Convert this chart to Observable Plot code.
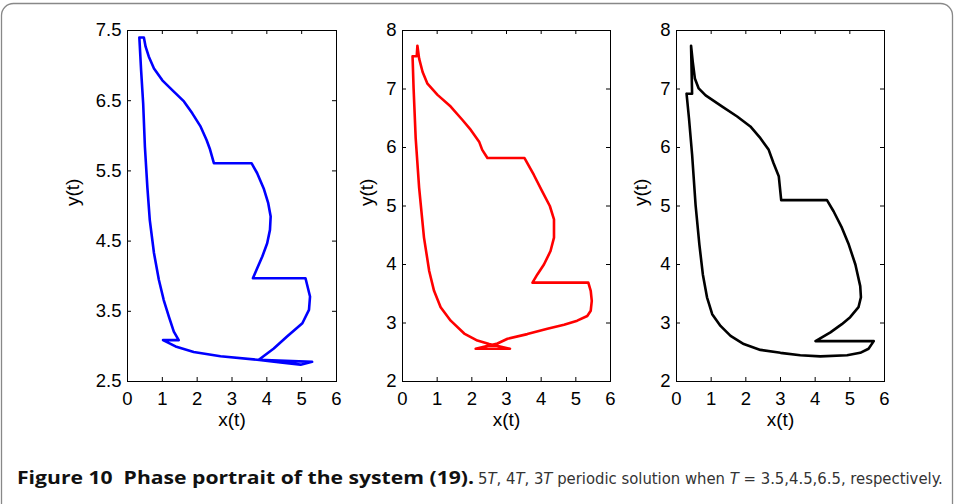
<!DOCTYPE html>
<html><head><meta charset="utf-8">
<script src="https://cdn.jsdelivr.net/npm/d3@7"></script>
<script src="https://cdn.jsdelivr.net/npm/@observablehq/plot@0.6"></script>
<style>
body{margin:0;background:#fff;}
#wrap{position:relative;width:956px;height:504px;overflow:hidden;background:#fff;}
.panel{position:absolute;top:0;}
</style></head><body>
<div id="wrap">
<svg width="956" height="504" style="position:absolute;left:0;top:0">
  <rect x="1.5" y="3.5" width="951" height="512" rx="12" fill="none" stroke="#888" stroke-width="1.3"/>
  <text x="17" y="484" font-family="'Open Sans','Noto Sans',sans-serif" font-weight="bold" font-size="17" fill="#111" textLength="457" lengthAdjust="spacingAndGlyphs" xml:space="preserve">Figure 10  Phase portrait of the system (19).</text>
  <text x="478" y="484" font-family="'Liberation Sans Narrow','DejaVu Sans Condensed','Open Sans',sans-serif" font-size="16.5" fill="#333">5<tspan font-style="italic">T</tspan>, 4<tspan font-style="italic">T</tspan>, 3<tspan font-style="italic">T</tspan> periodic solution when <tspan font-style="italic">T</tspan> = 3.5,4.5,6.5, respectively.</text>
</svg>
<div id="p1" class="panel"></div>
<div id="p2" class="panel"></div>
<div id="p3" class="panel"></div>
</div>
<script>
// tick labels
const xTicks = [0, 1, 2, 3, 4, 5, 6];
const yTicks1 = [2.5, 3.5, 4.5, 5.5, 6.5, 7.5];
const yTicks23 = [2, 3, 4, 5, 6, 7, 8];

// Panel 1 (5T, T = 3.5), blue
const p1x = [0.34,0.39,0.45,0.50,0.57,0.64,0.76,0.90,1.04,1.19,1.33,1.47,1.02,1.38,1.90,2.67,3.72,4.39,4.97,5.30,3.77,4.20,4.58,5.02,5.21,5.24,5.11,3.60,3.72,3.87,4.01,4.09,4.11,4.04,3.91,3.72,3.56,2.48,2.36,2.27,2.10,1.86,1.62,1.33,1.00,0.76,0.61,0.52,0.47,0.34];
const p1y = [7.40,6.94,6.46,5.84,5.27,4.80,4.33,3.95,3.66,3.42,3.21,3.09,3.09,3.00,2.92,2.86,2.81,2.77,2.74,2.78,2.81,2.97,3.14,3.33,3.52,3.71,3.97,3.97,4.11,4.28,4.47,4.66,4.85,5.04,5.25,5.47,5.61,5.61,5.82,5.94,6.13,6.32,6.49,6.63,6.79,6.96,7.13,7.27,7.40,7.40];

// Panel 2 (4T, T = 4.5), red
const p2x = [0.29,0.32,0.38,0.48,0.62,0.77,0.91,1.10,1.39,1.78,2.16,2.50,3.10,2.11,2.74,3.03,3.60,4.18,4.66,5.04,5.33,5.43,5.46,5.43,5.36,3.75,3.89,4.08,4.27,4.37,4.37,4.25,4.03,3.79,3.52,2.45,2.30,2.21,1.97,1.73,1.39,1.01,0.72,0.58,0.48,0.43,0.41,0.29];
const p2y = [7.56,7.01,6.16,5.31,4.46,3.89,3.55,3.27,3.04,2.82,2.70,2.64,2.56,2.56,2.65,2.73,2.81,2.90,2.97,3.04,3.12,3.21,3.38,3.55,3.69,3.69,3.83,4.00,4.23,4.46,4.77,5.00,5.25,5.53,5.82,5.82,5.96,6.10,6.30,6.47,6.70,6.90,7.09,7.29,7.52,7.74,7.56,7.56];

// Panel 3 (3T, T = 6.5), black
const p3x = [0.29,0.45,0.42,0.47,0.53,0.64,0.84,1.32,1.75,2.13,2.42,2.66,2.80,2.95,3.02,4.34,4.53,4.77,4.97,5.16,5.30,5.32,5.25,5.01,4.77,4.44,4.01,5.69,5.54,5.30,4.92,4.15,3.57,3.00,2.42,1.94,1.56,1.27,1.03,0.88,0.76,0.66,0.55,0.45,0.36,0.29];
const p3y = [6.92,6.92,7.74,7.46,7.18,7.01,6.89,6.70,6.53,6.36,6.16,5.96,5.73,5.51,5.10,5.10,4.91,4.63,4.34,4.00,3.63,3.44,3.27,3.10,2.98,2.84,2.69,2.69,2.56,2.49,2.45,2.43,2.45,2.49,2.54,2.64,2.78,2.95,3.15,3.44,3.83,4.34,5.02,5.88,6.50,6.92];

function panel(el, xs, ys, color, yDomain, yTicks, left, marginLeft, fw, ylabDx) {
  const fh = 351, mt = 30, mb = 60, mr = 14, tl = 4;
  const chart = Plot.plot({
    width: marginLeft + fw + mr,
    height: mt + fh + mb,
    marginLeft, marginRight: mr, marginTop: mt, marginBottom: mb,
    x: {domain: [0, 6]},
    y: {domain: yDomain},
    style: {fontFamily: "'Liberation Sans', Arial, Helvetica, sans-serif", fontSize: "18.5px", color: "#000", background: "transparent", overflow: "visible"},
    marks: [
      Plot.frame({stroke: "#000", strokeWidth: 1}),
      Plot.tickX(xTicks, {x: d => d, insetTop: fh - tl, stroke: "#000"}),
      Plot.tickX(xTicks, {x: d => d, insetBottom: fh - tl, stroke: "#000"}),
      Plot.tickY(yTicks, {y: d => d, insetRight: fw - tl, stroke: "#000"}),
      Plot.tickY(yTicks, {y: d => d, insetLeft: fw - tl, stroke: "#000"}),
      Plot.axisX({ticks: xTicks, tickSize: 0, tickPadding: 10, label: null, tickFormat: d => String(d)}),
      Plot.axisY({ticks: yTicks, tickSize: 0, tickPadding: 6, label: null, tickFormat: d => String(d)}),
      Plot.line(d3.range(xs.length), {x: i => xs[i], y: i => ys[i], stroke: color, strokeWidth: 2.6, strokeLinejoin: "round", curve: "linear"}),
      Plot.text(["x(t)"], {text: d => d, frameAnchor: "bottom", dy: 44, fontSize: 19}),
      Plot.text(["y(t)"], {text: d => d, frameAnchor: "left", dx: ylabDx, rotate: -90, fontSize: 19})
    ]
  });
  const div = document.getElementById(el);
  div.style.left = left + "px";
  div.appendChild(chart);
}

panel("p1", p1x, p1y, "#0000ff", [2.5, 7.5], yTicks1, 60, 67, 209, -55);
panel("p2", p2x, p2y, "#ff0000", [2, 8], yTicks23, 340, 62, 208, -36);
panel("p3", p3x, p3y, "#000000", [2, 8], yTicks23, 615, 61, 208, -36);
</script>
</body></html>
